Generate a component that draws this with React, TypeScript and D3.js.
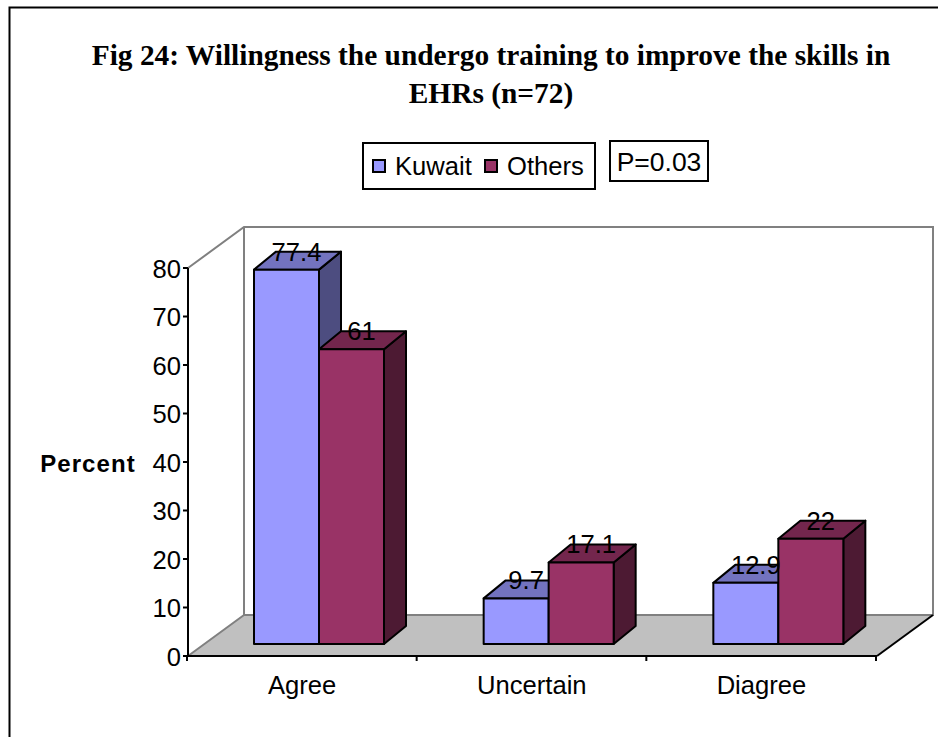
import React from "react";
import * as d3 from "d3";

const categories = ["Agree", "Uncertain", "Diagree"];
const seriesNames = ["Kuwait", "Others"];
const kuwait = [77.4, 9.7, 12.9];
const others = [61, 17.1, 22];
const yTicks = [0, 10, 20, 30, 40, 50, 60, 70, 80];
const titleLines = ["Fig 24: Willingness the undergo training to improve the skills in", "EHRs (n=72)"];
const frontColors = ["#9999ff", "#993366"];
const topColors = ["#7373bf", "#73264d"];
const sideColors = ["#4d4d80", "#4d1a33"];

const sans = "'Liberation Sans', Arial, sans-serif";
const serif = "'Liberation Serif', 'Times New Roman', serif";

const W = 938, H = 737;
const x0 = 188, x1 = 877;
const yAxis = d3.scaleLinear().domain([0, 80]).range([656, 268]);
const yBar = d3.scaleLinear().domain([0, 80]).range([645.5, 257]);
const barBase = 644;
const xCat = d3.scaleBand<string>().domain(categories).range([x0, x1]);
const depth = { x: 56, y: -41 };
const barDepth = { x: 22, y: -18 };
const barInset = 66;
const barWidth = 65;
const sw = 2;

function Bar({ left, value, s }: { left: number; value: number; s: number }) {
  const right = left + barWidth;
  const top = yBar(value);
  const bottom = barBase;
  const dx = barDepth.x, dy = barDepth.y;
  return (
    <g stroke="#000" strokeWidth={sw} strokeLinejoin="round">
      <polygon points={`${right},${top} ${right + dx},${top + dy} ${right + dx},${bottom + dy} ${right},${bottom}`} fill={sideColors[s]} />
      <polygon points={`${left},${top} ${left + dx},${top + dy} ${right + dx},${top + dy} ${right},${top}`} fill={topColors[s]} />
      <rect x={left} y={top} width={barWidth} height={bottom - top} fill={frontColors[s]} />
    </g>
  );
}

export default function App() {
  const backBottom = yAxis(0) + depth.y;
  const backTop = yAxis(80) + depth.y;
  const bars = categories.flatMap((c, i) => [
    { left: (xCat(c) as number) + barInset, value: kuwait[i], s: 0 },
    { left: (xCat(c) as number) + barInset + barWidth, value: others[i], s: 1 },
  ]);
  return (
    <svg width={W} height={H} style={{ position: "absolute", left: 0, top: 0 }}>
      <rect width={W} height={H} fill="#fff" />
      <path d={`M9.5,${H} V7.5 H${W}`} fill="none" stroke="#000" strokeWidth={2} />

      {titleLines.map((t, i) => (
        <text key={t} x={491} y={65 + i * 38} textAnchor="middle" fontFamily={serif} fontWeight="bold" fontSize={29.4} fill="#000">{t}</text>
      ))}

      {/* walls */}
      <polygon points={`${x0},${yAxis(0)} ${x0 + depth.x},${backBottom} ${x1 + depth.x},${backBottom} ${x1},${yAxis(0)}`} fill="#c0c0c0" />
      <path d={`M${x0},${yAxis(80)} L${x0 + depth.x},${backTop} H${x1 + depth.x} V${backBottom} H${x0 + depth.x} V${backTop} M${x0},${yAxis(0)} L${x0 + depth.x},${backBottom}`} fill="none" stroke="#808080" strokeWidth={sw} />
      <line x1={x1} y1={yAxis(0)} x2={x1 + depth.x} y2={backBottom} stroke="#000" strokeWidth={sw} />

      {/* axes */}
      <line x1={x0} y1={yAxis(80)} x2={x0} y2={yAxis(0)} stroke="#000" strokeWidth={sw} />
      <line x1={x0} y1={yAxis(0)} x2={x1} y2={yAxis(0)} stroke="#000" strokeWidth={sw} />
      {yTicks.map((t) => (
        <g key={t}>
          <line x1={x0 - 5} x2={x0} y1={yAxis(t)} y2={yAxis(t)} stroke="#000" strokeWidth={sw} />
          <text x={x0 - 7} y={yAxis(t) + 9.5} textAnchor="end" fontFamily={sans} fontSize={25.6} fill="#000">{t}</text>
        </g>
      ))}
      {[...categories.map((c) => xCat(c) as number), x1].map((x) => (
        <line key={x} x1={x - 1} x2={x - 1} y1={yAxis(0)} y2={yAxis(0) + 5} stroke="#000" strokeWidth={sw} />
      ))}
      {categories.map((c) => (
        <text key={c} x={(xCat(c) as number) + xCat.bandwidth() / 2 - 0.7} y={694} textAnchor="middle" fontFamily={sans} fontSize={25.6} fill="#000">{c}</text>
      ))}
      <text x={88} y={472} textAnchor="middle" fontFamily={sans} fontWeight="bold" fontSize={24} letterSpacing={1.1} fill="#000">Percent</text>

      {bars.map((b, i) => <Bar key={i} {...b} />)}
      {bars.map((b, i) => (
        <text key={i} x={b.left + barWidth / 2 + barDepth.x / 2 - 1} y={yBar(b.value) + barDepth.y / 2} textAnchor="middle" fontFamily={sans} fontSize={25.6} fill="#000">{b.value}</text>
      ))}

      {/* legend */}
      <rect x={363} y={143} width={232} height={46} fill="#fff" stroke="#000" strokeWidth={sw} />
      {seriesNames.map((n, i) => {
        const sx = [373, 485][i];
        return (
          <g key={n}>
            <rect x={sx} y={160} width={12} height={12} fill={frontColors[i]} stroke="#000" strokeWidth={sw} />
            <text x={sx + 22} y={175} fontFamily={sans} fontSize={25.6} fill="#000">{n}</text>
          </g>
        );
      })}
      <rect x={610} y={141} width={98} height={40} fill="#fff" stroke="#000" strokeWidth={sw} />
      <text x={659} y={171} textAnchor="middle" fontFamily={sans} fontSize={26.5} fill="#000">P=0.03</text>
    </svg>
  );
}
